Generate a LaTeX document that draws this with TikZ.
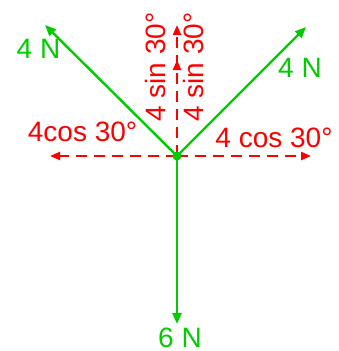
\documentclass[tikz,border=0pt]{standalone}
\usepackage{fontspec}
\setmainfont{Liberation Sans}
\usetikzlibrary{arrows.meta,positioning,calc}

\definecolor{forcegreen}{RGB}{0,204,0}
\definecolor{compred}{RGB}{255,0,0}

\begin{document}
\begin{tikzpicture}[x=1pt,y=-1pt,
  font=\fontsize{28}{32}\selectfont,
  force/.style={forcegreen,line width=2.4pt,-{Triangle[length=11pt,width=9pt]}},
  comp/.style={compred,line width=2.2pt,dash pattern=on 11pt off 7pt,-{Triangle[length=10pt,width=8pt]}},
  forcelabel/.style={forcegreen,anchor=base,inner sep=0},
  complabel/.style={compred,anchor=base,inner sep=0}]

\useasboundingbox (0,0) rectangle (338,351);

\coordinate (O) at (177,156);
\coordinate (L) at (45,25);
\coordinate (R) at (306,27);
\coordinate (D) at (177,324);
\coordinate (CL) at (50,156);
\coordinate (CR) at (311,156);
\coordinate (SU) at (177,25);
\coordinate (SM) at (177,60);

% components
\draw[comp] (O) -- (CL);
\draw[comp] (O) -- (CR);
\draw[comp] (O) -- (SU);
\draw[comp] (O) -- (SM);

% forces
\draw[force] (O) -- (L);
\draw[force] (O) -- (R);
\draw[force] (O) -- (D);
\node[circle,fill=forcegreen,inner sep=0,minimum size=9pt] (dot) at (O) {};

\node[forcelabel] (fl) at (38.5,58) {4 N};
\node[forcelabel] (fr) at (300,77) {4 N};
\node[forcelabel] (fd) at (180,347) {6 N};

\node[complabel] (cl) at (82.5,141) {4cos 30°};
\node[complabel] (cr) at (274,147) {4 cos 30°};
\node[complabel,rotate=90] (sl) at (165,67) {4 sin 30°};
\node[complabel,rotate=90] (sr) at (203,67) {4 sin 30°};

\end{tikzpicture}
\end{document}
